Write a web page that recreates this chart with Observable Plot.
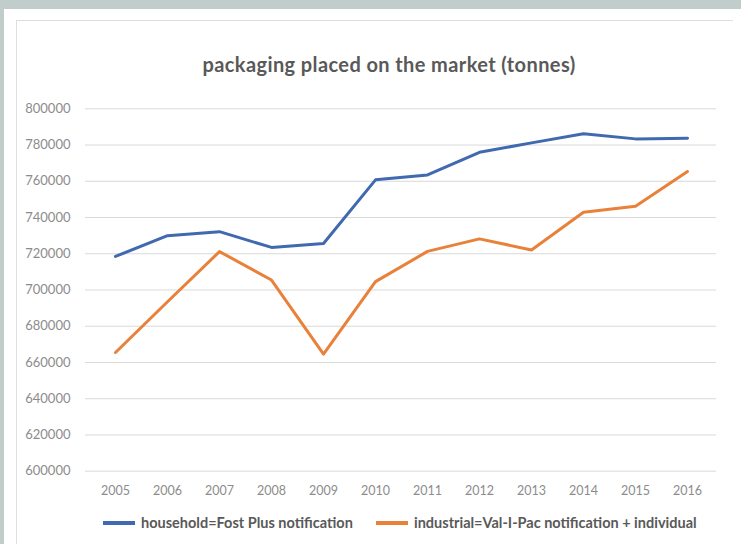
<!DOCTYPE html>
<html>
<head>
<meta charset="utf-8">
<script src="https://cdn.jsdelivr.net/npm/d3@7"></script>
<script src="https://cdn.jsdelivr.net/npm/@observablehq/plot@0.6"></script>
<style>
  html, body { margin: 0; padding: 0; }
  body { width: 741px; height: 544px; overflow: hidden; position: relative; background: #c1cdca; font-family: Lato, "Open Sans", sans-serif; }
  #panel { position: absolute; left: 4px; top: 9px; width: 737px; height: 535px; background: #fff; }
  #frame { position: absolute; left: 16px; top: 20px; width: 717px; height: 540px; border-top: 1px solid #dedede; border-left: 1px solid #dedede; box-sizing: border-box; }
  #title { position: absolute; left: 0; top: 52px; width: 778px; text-align: center; font-size: 20px; letter-spacing: 0.4px; font-weight: 700; color: #595959; line-height: normal; }
  #chart { position: absolute; left: 0; top: 90px; }
  .item { position: absolute; top: 513px; height: 19px; line-height: 19px; font-size: 14.5px; font-weight: 700; color: #595959; white-space: nowrap; }
  .sw { display: inline-block; width: 32px; height: 4px; vertical-align: middle; margin-right: 6px; position: relative; top: -1px; }
</style>
</head>
<body>
<div id="panel"></div>
<div id="frame"></div>
<div id="title"></div>
<div id="chart"></div>
<div id="legend"></div>
<script>
const title = "packaging placed on the market (tonnes)";
const years = [2005, 2006, 2007, 2008, 2009, 2010, 2011, 2012, 2013, 2014, 2015, 2016];
const household = [718500, 730000, 732200, 723500, 725700, 760800, 763500, 776000, 781200, 786200, 783400, 783800];
const industrial = [665500, 693500, 721200, 705500, 664600, 704600, 721300, 728200, 722100, 742900, 746200, 765400];
const seriesNames = ["household=Fost Plus notification", "industrial=Val-I-Pac notification + individual"];
const seriesColors = ["#4169b0", "#e8813a"];
const yTicks = [600000, 620000, 640000, 660000, 680000, 700000, 720000, 740000, 760000, 780000, 800000];

const rows = [];
years.forEach((yr, i) => {
  rows.push({year: yr, value: household[i], series: seriesNames[0]});
  rows.push({year: yr, value: industrial[i], series: seriesNames[1]});
});

document.getElementById("title").textContent = title;

const chart = Plot.plot({
  width: 741,
  height: 410,
  marginTop: 18.3,
  marginBottom: 29.3,
  marginLeft: 85,
  marginRight: 25,
  style: { background: "transparent", fontFamily: "Lato, 'Open Sans', sans-serif", fontSize: "12px", color: "#8c8c8c" },
  x: { type: "point", domain: years, padding: 0.5, label: null },
  y: { domain: [600000, 800000], label: null },
  color: { domain: seriesNames, range: seriesColors },
  marks: [
    Plot.gridY(yTicks, { stroke: "#d9d9d9", strokeOpacity: 1, strokeWidth: 1 }),
    Plot.axisY(yTicks, { tickSize: 0, tickPadding: 15, tickFormat: d3.format("d"), fill: "#8c8c8c", fontSize: 13 }),
    Plot.axisX(years, { tickSize: 0, tickPadding: 15, tickFormat: d => String(d), fill: "#8c8c8c", fontSize: 12.5 }),
    Plot.line(rows, { x: "year", y: "value", z: "series", stroke: "series", strokeWidth: 3, strokeLinejoin: "round", strokeLinecap: "round" })
  ]
});
document.getElementById("chart").appendChild(chart);

const legend = document.getElementById("legend");
const lefts = [103, 376];
seriesNames.forEach((name, i) => {
  const item = document.createElement("div");
  item.className = "item";
  item.style.left = lefts[i] + "px";
  const sw = document.createElement("span");
  sw.className = "sw";
  sw.style.background = seriesColors[i];
  item.appendChild(sw);
  item.appendChild(document.createTextNode(name));
  legend.appendChild(item);
});
</script>
</body>
</html>
